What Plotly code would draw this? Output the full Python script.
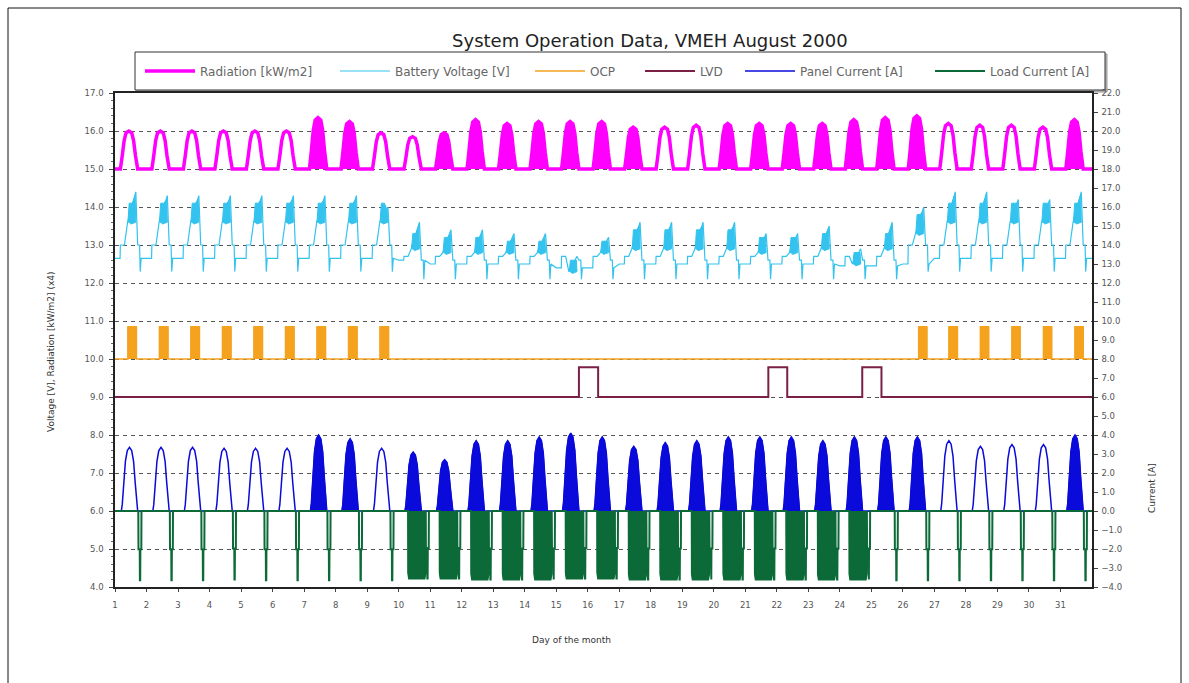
import plotly.graph_objects as go

W, H = 1189, 683
PL, PR, PT, PB = 115, 1092, 93, 587

def px(x):
    return (x - PL) / (PR - PL)

def py(y):
    return (PB - y) / (PB - PT)

DAYS = list(range(1, 32))

# ---- Radiation (kW/m2), drawn as 15 + value on the left axis
RAD_PEAK = [1.00, 1.00, 1.00, 1.00, 1.00, 1.00, 1.35, 1.25, 0.95, 0.85, 0.95, 1.30, 1.20, 1.25, 1.25, 1.25,
            1.10, 1.10, 1.15, 1.20, 1.20, 1.20, 1.20, 1.30, 1.35, 1.40, 1.20, 1.15, 1.15, 1.10, 1.30]
RAD_NOISY = [0, 0, 0, 0, 0, 0, 1, 1, 0, 0, 1, 1, 1, 1, 1, 1, 1, 0, 0, 1, 1, 1, 1, 1, 1, 1, 0, 0, 0, 0, 1]
RAD_T_OFF = [0.00, 0.17, 0.23, 0.29, 0.35, 0.44, 0.53, 0.59, 0.65, 0.72]
RAD_T_SHAPE = [0.0, 0.0, 0.35, 0.75, 0.95, 1.0, 0.95, 0.75, 0.35, 0.0]

# ---- Battery voltage [V]
BATT_NIGHT = [12.65] * 9 + [12.6, 12.5, 12.5, 12.5, 12.5, 12.4, 12.4, 12.5, 12.5, 12.5, 12.5, 12.5, 12.5, 12.5, 12.45, 12.45,
                            12.5] + [12.65] * 5
BATT_MORN = [13.0] * 9 + [12.7] * 16 + [13.0] * 6
BATT_BAND_LO = [13.6] * 9 + [12.9, 12.8, 12.8, 12.8, 12.8, 12.3, 12.8, 12.9, 12.9, 12.9, 12.9, 12.8, 12.8, 12.9, 12.5, 12.9,
                             13.3] + [13.6] * 5
BATT_BAND_HI = [14.1] * 9 + [13.3, 13.2, 13.2, 13.1, 13.1, 12.6, 13.1, 13.4, 13.4, 13.4, 13.4, 13.2, 13.2, 13.3, 12.8, 13.3,
                             13.8] + [14.1] * 5
BATT_PEAK = [14.4, 14.3, 14.3, 14.3, 14.3, 14.3, 14.3, 14.3, 14.0, 13.6, 13.4, 13.4, 13.3, 13.3, 12.7, 13.2,
             13.6, 13.6, 13.6, 13.6, 13.3, 13.3, 13.5, 12.9, 13.6, 14.0, 14.4, 14.4, 14.2, 14.2, 14.4]
BATT_EVE = [13.0] * 9 + [12.6] * 16 + [13.0] * 6
BATT_DIP = [12.3] * 9 + [12.1] * 16 + [12.3] * 6
BATT_T_OFF = [0.00, 0.16, 0.17, 0.30, 0.40, 0.66, 0.72, 0.78, 0.80, 0.83]

# ---- Over-charge protection (OCP) and low-voltage disconnect (LVD) switching
OCP_ON = [1.41, 2.41, 3.41, 4.41, 5.41, 6.41, 7.41, 8.41, 9.41, 26.50, 27.46, 28.46, 29.46, 30.46, 31.46]
OCP_OFF = [1.68, 2.68, 3.68, 4.68, 5.68, 6.68, 7.68, 8.68, 9.68, 26.76, 27.73, 28.72, 29.72, 30.72, 31.72]
OCP_LOW, OCP_HIGH = 10.0, 10.85
LVD_ON = [15.72, 21.73, 24.71]
LVD_OFF = [16.33, 22.33, 25.32]
LVD_LOW, LVD_HIGH = 9.0, 9.78

# ---- Panel current [A] (right axis)
PANEL_PEAK = [3.35, 3.35, 3.35, 3.3, 3.3, 3.3, 4.0, 3.8, 3.3, 3.1, 2.7, 3.7, 3.7, 3.9, 4.1, 3.9,
              3.4, 3.6, 3.7, 3.9, 3.9, 3.9, 3.7, 3.9, 3.9, 3.9, 3.7, 3.4, 3.5, 3.5, 4.0]
PANEL_NOISY = [0, 0, 0, 0, 0, 0, 1, 1, 0, 1, 1, 1, 1, 1, 1, 1, 1, 1, 1, 1, 1, 1, 1, 1, 1, 1, 0, 0, 0, 0, 1]
PANEL_T_OFF = [0.00, 0.20, 0.23, 0.28, 0.33, 0.39, 0.46, 0.53, 0.59, 0.64, 0.69, 0.72]
PANEL_T_SHAPE = [0.0, 0.0, 0.1, 0.45, 0.78, 0.95, 1.0, 0.95, 0.78, 0.45, 0.1, 0.0]

# ---- Load current [A] (right axis, negative = discharge)
LOAD_BLOCK = [0] * 9 + [1] * 15 + [0] * 7
LOAD_DEPTH = [-3.65, -3.65, -3.65, -3.6, -3.65, -3.65, -3.65, -3.65, -3.65, -3.55, -3.55, -3.6, -3.6, -3.6, -3.55, -3.55,
              -3.6, -3.6, -3.6, -3.6, -3.6, -3.6, -3.6, -3.6, -3.65, -3.65, -3.65, -3.65, -3.65, -3.65, -3.65]
LOAD_SPIKE_OFF = [0.00, 0.74, 0.745, 0.785, 0.79, 0.80, 0.805, 0.835, 0.84]
LOAD_SPIKE_SHAPE = [0.0, 0.0, 0.55, 0.55, 1.0, 1.0, 0.55, 0.55, 0.0]
LOAD_BLOCK_OFF = [0.30, 0.305, 0.33, 0.82, 0.85, 0.855]
LOAD_BLOCK_SHAPE = [0.0, 0.92, 1.0, 1.0, 0.92, 0.0]

X_END = 32

# ================= build the series =================
rad_x, rad_y, radf_x, radf_y = [], [], [], []
for i, d in enumerate(DAYS):
    for o, s in zip(RAD_T_OFF, RAD_T_SHAPE):
        rad_x.append(d + o)
        rad_y.append(15 + RAD_PEAK[i] * s)
    if RAD_NOISY[i]:
        for o, s in zip(RAD_T_OFF[1:], RAD_T_SHAPE[1:]):
            radf_x.append(d + o)
            radf_y.append(15 + RAD_PEAK[i] * s)
        radf_x.append(None)
        radf_y.append(None)
rad_x.append(X_END)
rad_y.append(15)

bat_x, bat_y, batf_x, batf_y = [], [], [], []
for i, d in enumerate(DAYS):
    vals = [BATT_NIGHT[i], BATT_NIGHT[i], BATT_MORN[i], BATT_MORN[i], BATT_BAND_LO[i], BATT_PEAK[i],
            BATT_EVE[i], BATT_EVE[i], BATT_DIP[i], BATT_NIGHT[i]]
    for o, v in zip(BATT_T_OFF, vals):
        bat_x.append(d + o)
        bat_y.append(v)
    blob = [(0.41, BATT_BAND_LO[i]), (0.45, BATT_BAND_HI[i]), (0.55, BATT_BAND_HI[i]), (0.64, BATT_PEAK[i] - 0.1),
            (0.66, BATT_BAND_LO[i]), (0.50, BATT_BAND_LO[i] - 0.05)]
    for o, v in blob:
        batf_x.append(d + o)
        batf_y.append(v)
    batf_x.append(None)
    batf_y.append(None)
bat_x.append(X_END)
bat_y.append(BATT_NIGHT[-1])

ocp_x, ocp_y, ocpf_x, ocpf_y = [1], [OCP_LOW], [], []
for a, b in zip(OCP_ON, OCP_OFF):
    ocp_x += [a, a, b, b]
    ocp_y += [OCP_LOW, OCP_HIGH, OCP_HIGH, OCP_LOW]
    ocpf_x += [a, a, b, b, None]
    ocpf_y += [OCP_LOW, OCP_HIGH, OCP_HIGH, OCP_LOW, None]
ocp_x.append(X_END)
ocp_y.append(OCP_LOW)

lvd_x, lvd_y = [1], [LVD_LOW]
for a, b in zip(LVD_ON, LVD_OFF):
    lvd_x += [a, a, b, b]
    lvd_y += [LVD_LOW, LVD_HIGH, LVD_HIGH, LVD_LOW]
lvd_x.append(X_END)
lvd_y.append(LVD_LOW)

pan_x, pan_y, panf_x, panf_y = [], [], [], []
for i, d in enumerate(DAYS):
    for o, s in zip(PANEL_T_OFF, PANEL_T_SHAPE):
        pan_x.append(d + o)
        pan_y.append(PANEL_PEAK[i] * s)
    if PANEL_NOISY[i]:
        for o, s in zip(PANEL_T_OFF[1:], PANEL_T_SHAPE[1:]):
            panf_x.append(d + o)
            panf_y.append(PANEL_PEAK[i] * s)
        panf_x.append(None)
        panf_y.append(None)
pan_x.append(X_END)
pan_y.append(0)

load_x, load_y, loadf_x, loadf_y = [], [], [], []
for i, d in enumerate(DAYS):
    if LOAD_BLOCK[i]:
        load_x.append(d)
        load_y.append(0)
        for o, s in zip(LOAD_BLOCK_OFF, LOAD_BLOCK_SHAPE):
            load_x.append(d + o)
            load_y.append(LOAD_DEPTH[i] * s)
            loadf_x.append(d + o)
            loadf_y.append(LOAD_DEPTH[i] * s)
        loadf_x.append(None)
        loadf_y.append(None)
    for o, s in zip(LOAD_SPIKE_OFF, LOAD_SPIKE_SHAPE):
        if LOAD_BLOCK[i] and o < 0.5:
            continue
        oo = o + (0.12 if LOAD_BLOCK[i] else 0)
        load_x.append(d + oo)
        load_y.append(LOAD_DEPTH[i] * s)
load_x.append(X_END)
load_y.append(0)

# ================= figure =================
C_RAD = "#FF00FF"
C_BAT = "#33C3EE"
C_OCP = "#F5A21E"
C_LVD = "#7A1F45"
C_PAN = "#0A0ADA"
C_LOAD = "#0B6A37"

fig = go.Figure()

fig.add_trace(go.Scatter(x=radf_x, y=radf_y, mode="lines", fill="toself", fillcolor=C_RAD,
                         line=dict(color=C_RAD, width=1), showlegend=False, hoverinfo="skip"))
fig.add_trace(go.Scatter(x=rad_x, y=rad_y, mode="lines", name="Radiation [kW/m2]",
                         line=dict(color=C_RAD, width=3.5), legend="legend"))
fig.add_trace(go.Scatter(x=batf_x, y=batf_y, mode="lines", fill="toself", fillcolor=C_BAT,
                         line=dict(color=C_BAT, width=1), showlegend=False, hoverinfo="skip"))
fig.add_trace(go.Scatter(x=bat_x, y=bat_y, mode="lines", name="Battery Voltage [V]",
                         line=dict(color=C_BAT, width=1.2), legend="legend2"))
fig.add_trace(go.Scatter(x=ocpf_x, y=ocpf_y, mode="lines", fill="toself", fillcolor=C_OCP,
                         line=dict(color=C_OCP, width=1), showlegend=False, hoverinfo="skip"))
fig.add_trace(go.Scatter(x=ocp_x, y=ocp_y, mode="lines", name="OCP",
                         line=dict(color=C_OCP, width=1.5), legend="legend3"))
fig.add_trace(go.Scatter(x=lvd_x, y=lvd_y, mode="lines", name="LVD",
                         line=dict(color=C_LVD, width=2), legend="legend4"))
fig.add_trace(go.Scatter(x=panf_x, y=panf_y, mode="lines", fill="toself", fillcolor=C_PAN, yaxis="y2",
                         line=dict(color=C_PAN, width=1), showlegend=False, hoverinfo="skip"))
fig.add_trace(go.Scatter(x=pan_x, y=pan_y, mode="lines", name="Panel Current [A]", yaxis="y2",
                         line=dict(color=C_PAN, width=1.5), legend="legend5"))
fig.add_trace(go.Scatter(x=loadf_x, y=loadf_y, mode="lines", fill="toself", fillcolor=C_LOAD, yaxis="y2",
                         line=dict(color=C_LOAD, width=1), showlegend=False, hoverinfo="skip"))
fig.add_trace(go.Scatter(x=load_x, y=load_y, mode="lines", name="Load Current [A]", yaxis="y2",
                         line=dict(color=C_LOAD, width=2), legend="legend6"))

FONT = "DejaVu Sans, Verdana, sans-serif"
tickfont = dict(family=FONT, size=8.5, color="#555")

leg_common = dict(orientation="h", xanchor="left", yanchor="middle", bgcolor="rgba(0,0,0,0)",
                  borderwidth=0, font=dict(family=FONT, size=12, color="#666"), itemwidth=50,
                  itemclick=False, itemdoubleclick=False)
leg_px = [140, 335, 530, 640, 740, 930]
legs = {}
for k, xp in enumerate(leg_px):
    key = "legend" if k == 0 else f"legend{k + 1}"
    legs[key] = dict(leg_common, x=px(xp), y=py(71))

fig.update_layout(
    width=W, height=H,
    margin=dict(l=PL, r=W - PR, t=PT, b=H - PB, pad=0),
    paper_bgcolor="white", plot_bgcolor="white",
    font=dict(family=FONT, color="#333"),
    title=dict(text="System Operation Data, VMEH August 2000", x=px(649), xanchor="center", y=1 - 41 / H,
               yanchor="middle", font=dict(family=FONT, size=18, color="#222")),
    xaxis=dict(range=[1, 32], showgrid=False, zeroline=False,
               showline=True, linecolor="#222", linewidth=1.5, mirror=True, ticks="outside", ticklen=3,
               tickcolor="#444", tickfont=tickfont, tickvals=DAYS, ticktext=[str(d) for d in DAYS],
               ticklabelstandoff=6),
    yaxis=dict(range=[4, 17], tickmode="linear", tick0=4, dtick=1, tickformat=".1f", showgrid=True,
               gridcolor="#555", griddash="4px,4px", gridwidth=1, zeroline=False, showline=True,
               linecolor="#222", linewidth=1.5, ticks="outside", ticklen=4, tickcolor="#444",
               tickfont=tickfont, ticklabelstandoff=4,
               minor=dict(dtick=0.2, ticks="outside", ticklen=2, tickcolor="#666", showgrid=False)),
    yaxis2=dict(range=[-4, 22], overlaying="y", side="right", tickmode="linear", tick0=-4, dtick=1,
                tickformat=".1f", showgrid=False, zeroline=False, showline=True, linecolor="#222",
                linewidth=1.5, ticks="outside", ticklen=4, tickcolor="#444", tickfont=tickfont,
                ticklabelstandoff=2),
    **legs,
    shapes=[
        dict(type="rect", xref="paper", yref="paper", x0=px(8), x1=px(1181), y0=py(690), y1=py(8),
             line=dict(color="#111", width=1), layer="below"),
        dict(type="rect", xref="paper", yref="paper", x0=px(137), x1=px(1107), y0=py(92), y1=py(54),
             line=dict(color="#999", width=1), fillcolor="#bbb", layer="below"),
        dict(type="rect", xref="paper", yref="paper", x0=px(135), x1=px(1105), y0=py(90), y1=py(52),
             line=dict(color="#333", width=1), fillcolor="white", layer="below"),
    ],
    annotations=[
        dict(text="Day of the month", xref="paper", yref="paper", x=px(571), y=py(640), showarrow=False,
             xanchor="center", yanchor="middle", font=dict(family=FONT, size=9, color="#333")),
        dict(text="Voltage [V], Radiation [kW/m2] (x4)", xref="paper", yref="paper", x=px(51), y=py(352),
             xanchor="center", yanchor="middle", textangle=-90, showarrow=False,
             font=dict(family=FONT, size=9, color="#333")),
        dict(text="Current [A]", xref="paper", yref="paper", x=px(1152), y=py(488), textangle=-90,
             xanchor="center", yanchor="middle", showarrow=False, font=dict(family=FONT, size=9, color="#333")),
    ],
)

fig.write_html("out.html", post_script="document.body.style.margin='0';",
               config={"displayModeBar": False})
